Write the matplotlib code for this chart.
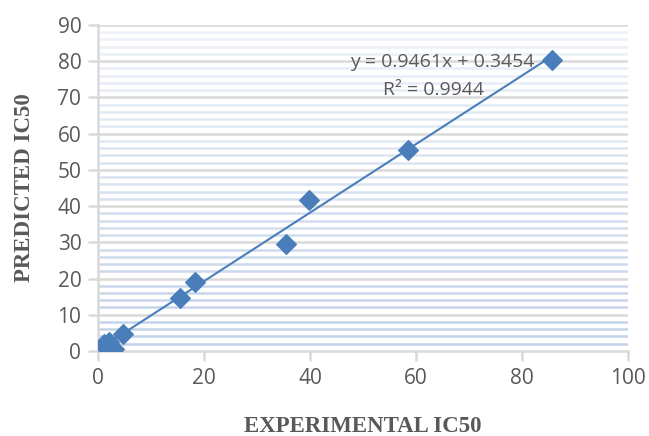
import numpy as np
import matplotlib
matplotlib.use('Agg')
import matplotlib.pyplot as plt

# experimental vs predicted IC50
experimental = [85.6, 58.4, 39.8, 35.5, 18.2, 15.5, 4.7, 1.2, 2.0, 3.1, 1.6]
predicted = [80.3, 55.5, 41.8, 29.4, 19.0, 14.5, 4.6, 1.8, 2.4, 0.6, 0.8]
slope, intercept = 0.9461, 0.3454
r2 = 0.9944

blue = "#4a7ebb"
grid_gray = "#d9d9d9"
text_gray = "#595959"

fig, ax = plt.subplots(figsize=(6.49, 4.36), dpi=100)
fig.subplots_adjust(left=0.151, right=0.968, bottom=0.195, top=0.943)

ax.set_xlim(0, 100)
ax.set_ylim(0, 90)

# striped background: light blue lines every 2 units, fading toward the top
for y in np.arange(2, 90, 2):
    if y % 10 == 0:
        continue
    alpha = 0.2 + 0.6 * (1 - y / 90)
    ax.axhline(y, color="#b0c6e2", lw=1.8, alpha=alpha, zorder=0)

for y in range(10, 100, 10):
    ax.axhline(y, color=grid_gray, lw=1.8, zorder=1)

xs = np.array([min(experimental), max(experimental)])
ax.plot(xs, slope * xs + intercept, color=blue, lw=1.5, zorder=2)
ax.scatter(experimental, predicted, marker="D", s=100, color=blue, zorder=3)

ax.text(64.9, 79.8, f"y = {slope}x + {intercept}", fontsize=14, color=text_gray,
        ha="center", va="center", family="Open Sans")
ax.text(63.2, 72.0, f"R² = {r2}", fontsize=14, color=text_gray,
        ha="center", va="center", family="Open Sans")

ax.set_xticks(range(0, 101, 20))
ax.set_yticks(range(0, 91, 10))
for side in ["top", "right"]:
    ax.spines[side].set_visible(False)
for side in ["left", "bottom"]:
    ax.spines[side].set_color(grid_gray)
    ax.spines[side].set_linewidth(1.8)
ax.tick_params(colors=grid_gray, labelcolor=text_gray, labelsize=15, length=7, width=1.8, pad=5)
for lab in ax.get_xticklabels() + ax.get_yticklabels():
    lab.set_family("Open Sans")

ax.set_xlabel("EXPERIMENTAL IC50", fontsize=16.5, fontweight="bold", color=text_gray,
              family="Liberation Serif", labelpad=20)
ax.set_ylabel("PREDICTED IC50", fontsize=16.5, fontweight="bold", color=text_gray,
              family="Liberation Serif", labelpad=16)

plt.savefig("out.png")
